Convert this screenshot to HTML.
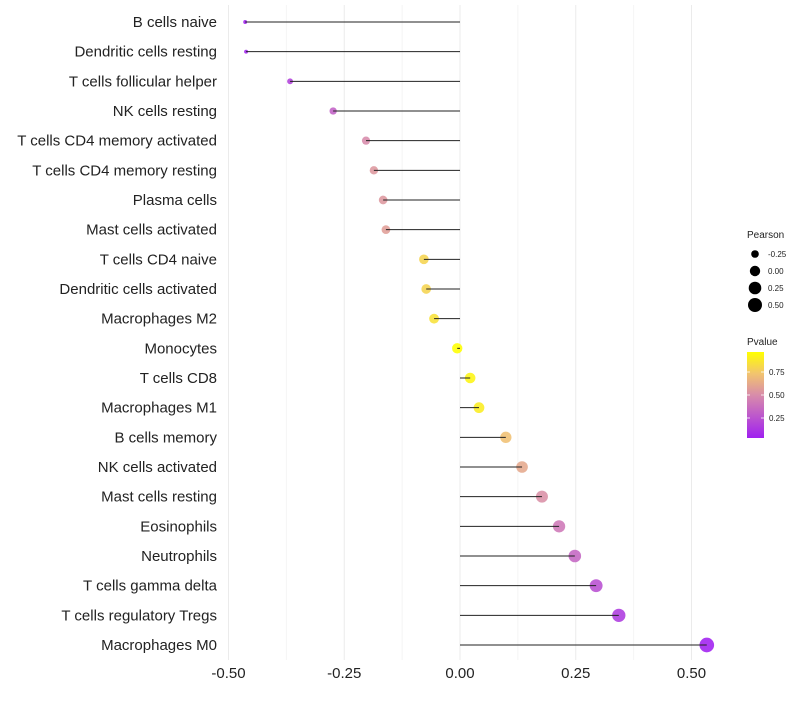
<!DOCTYPE html>
<html><head><meta charset="utf-8"><style>
body{margin:0;background:#fff;font-family:"Liberation Sans",sans-serif}
</style></head><body>
<svg id="c" width="800" height="700" xmlns="http://www.w3.org/2000/svg"></svg>
<script>
const categories=["B cells naive","Dendritic cells resting","T cells follicular helper","NK cells resting","T cells CD4 memory activated","T cells CD4 memory resting","Plasma cells","Mast cells activated","T cells CD4 naive","Dendritic cells activated","Macrophages M2","Monocytes","T cells CD8","Macrophages M1","B cells memory","NK cells activated","Mast cells resting","Eosinophils","Neutrophils","T cells gamma delta","T cells regulatory  Tregs","Macrophages M0"];
const pearson=[-0.464,-0.462,-0.367,-0.274,-0.203,-0.186,-0.166,-0.160,-0.078,-0.073,-0.056,-0.006,0.022,0.041,0.099,0.134,0.177,0.214,0.248,0.294,0.343,0.533];
const pvalue=[0.04,0.05,0.18,0.32,0.50,0.55,0.55,0.58,0.80,0.80,0.85,0.97,0.93,0.90,0.72,0.62,0.52,0.42,0.34,0.24,0.15,0.04];
const xTicks=[-0.5,-0.25,0,0.25,0.5];
const xTickLabels=["-0.50","-0.25","0.00","0.25","0.50"];
const sizeLegend=[-0.25,0,0.25,0.5];
const sizeLegendLabels=["-0.25","0.00","0.25","0.50"];
const pTicks=[0.25,0.5,0.75];

const svg=document.getElementById('c');const NS="http://www.w3.org/2000/svg";
function mk(t,a,p){const e=document.createElementNS(NS,t);for(const k in a)e.setAttribute(k,a[k]);(p||svg).appendChild(e);return e;}
const xS=v=>460+v*463;
const yS=i=>22+i*(623/21);
const rS=v=>Math.sqrt(Math.max(1.5,4+(v+0.46)*50));
const pMin=0.04,pMax=0.97;
const stops=[[0,[160,32,240]],[0.5,[216,140,170]],[0.75,[242,196,110]],[1,[255,255,0]]];
function col(p){let t=Math.max(0,Math.min(1,(p-pMin)/(pMax-pMin)));for(let i=1;i<stops.length;i++){if(t<=stops[i][0]){const a=stops[i-1],b=stops[i];const f=(t-a[0])/(b[0]-a[0]);const c=a[1].map((v,j)=>Math.round(v+(b[1][j]-v)*f));return `rgb(${c})`;}}return 'rgb(255,255,0)';}
for(let i=0;i<xTicks.length;i++){
 let g=mk('line',{x1:xS(xTicks[i]),x2:xS(xTicks[i]),y1:5,y2:660,stroke:'#ebebeb','stroke-width':1});
 
 if(i<xTicks.length-1){let m=(xTicks[i]+xTicks[i+1])/2;let g2=mk('line',{x1:xS(m),x2:xS(m),y1:5,y2:660,stroke:'#f4f4f4','stroke-width':1});
 }
 let t=mk('text',{x:xS(xTicks[i]),y:678,'text-anchor':'middle','font-size':15,fill:'#222'});t.textContent=xTickLabels[i];
 
}
categories.forEach((c,i)=>{
 const y=yS(i);
 let t=mk('text',{x:217,y:y+5,'text-anchor':'end','font-size':15,fill:'#222'});t.textContent=c;
 
 let d=mk('circle',{cx:xS(pearson[i]),cy:y,r:rS(pearson[i]),fill:col(pvalue[i]),'fill-opacity':0.88});
 
 let l=mk('line',{x1:xS(0),x2:xS(pearson[i]),y1:y,y2:y,stroke:'#222','stroke-width':1});
 
});
let lt=mk('text',{x:747,y:238,'font-size':10,fill:'#222'});lt.textContent='Pearson';

sizeLegend.forEach((v,i)=>{const y=254+i*17;
 let c=mk('circle',{cx:755,cy:y,r:Math.min(7,rS(v)),fill:'#000'});
 let t=mk('text',{x:768,y:y+3,'font-size':8,fill:'#222'});t.textContent=sizeLegendLabels[i];
 });
let pt=mk('text',{x:747,y:345,'font-size':10,fill:'#222'});pt.textContent='Pvalue';

const defs=mk('defs',{});const gr=mk('linearGradient',{id:'pg',x1:0,y1:1,x2:0,y2:0},defs);
stops.forEach(s=>mk('stop',{offset:s[0],'stop-color':`rgb(${s[1]})`},gr));
const cbY=v=>441-v*92;
let cb=mk('rect',{x:747,y:352,width:17,height:86,fill:'url(#pg)'});
pTicks.forEach(v=>{const y=cbY(v);
 mk('line',{x1:747,x2:750,y1:y,y2:y,stroke:'#fff','stroke-width':0.8});mk('line',{x1:761,x2:764,y1:y,y2:y,stroke:'#fff','stroke-width':0.8});
 let t=mk('text',{x:769,y:y+3,'font-size':8,fill:'#222'});t.textContent=v.toFixed(2);
 });
</script>
</body></html>
